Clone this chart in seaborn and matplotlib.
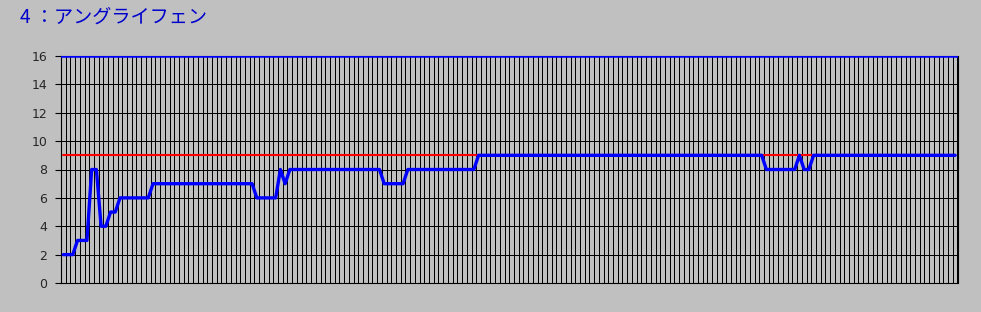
import matplotlib
matplotlib.use("Agg")
import matplotlib.pyplot as plt
import seaborn as sns
import pandas as pd
import numpy as np

title_text = "4 ：アングライフェン"
y_ticks = [0, 2, 4, 6, 8, 10, 12, 14, 16]

# blue series values read per category
series_values = [
    2, 2, 2, 3, 3, 3, 8, 8, 4, 4,
    5, 5, 6, 6, 6, 6, 6, 6, 6, 7,
    7, 7, 7, 7, 7, 7, 7, 7, 7, 7,
    7, 7, 7, 7, 7, 7, 7, 7, 7, 7,
    7, 6, 6, 6, 6, 6, 8, 7, 8, 8,
    8, 8, 8, 8, 8, 8, 8, 8, 8, 8,
    8, 8, 8, 8, 8, 8, 8, 8, 7, 7,
    7, 7, 7, 8, 8, 8, 8, 8, 8, 8,
    8, 8, 8, 8, 8, 8, 8, 8, 9, 9,
    9, 9, 9, 9, 9, 9, 9, 9, 9, 9,
    9, 9, 9, 9, 9, 9, 9, 9, 9, 9,
    9, 9, 9, 9, 9, 9, 9, 9, 9, 9,
    9, 9, 9, 9, 9, 9, 9, 9, 9, 9,
    9, 9, 9, 9, 9, 9, 9, 9, 9, 9,
    9, 9, 9, 9, 9, 9, 9, 9, 9, 8,
    8, 8, 8, 8, 8, 8, 9, 8, 8, 9,
    9, 9, 9, 9, 9, 9, 9, 9, 9, 9,
    9, 9, 9, 9, 9, 9, 9, 9, 9, 9,
    9, 9, 9, 9, 9, 9, 9, 9, 9, 9,
]
target_level = 9
max_level = 16

n = len(series_values)
df = pd.DataFrame({
    "idx": np.arange(n),
    "value": series_values,
    "target": [target_level] * n,
})

sns.set_theme(style="white")
plt.rcParams['font.family'] = ['Noto Sans CJK JP', 'DejaVu Sans']

bg = "#C0C0C0"
fig = plt.figure(figsize=(9.81, 3.12), dpi=100, facecolor=bg)
ax = fig.add_axes([61 / 981, 1 - 283 / 312, (957.5 - 61) / 981, (283 - 56) / 312])
ax.set_facecolor(bg)

# grid
for k in range(n + 1):
    ax.axvline(k - 0.5, color="black", lw=0.5, zorder=1, antialiased=False)
for t in y_ticks:
    ax.axhline(t, color="black", lw=0.5, zorder=1, antialiased=False)
ax.axhline(max_level, color="#0000FF", lw=1.8, zorder=3)

sns.lineplot(data=df, x="idx", y="target", ax=ax, color="#FF0000", lw=1.5, zorder=2)
sns.lineplot(data=df, x="idx", y="value", ax=ax, color="#0000FF", lw=2.4, zorder=4)

ax.set_xlim(-0.5, n - 0.5)
ax.set_ylim(0, 16)
ax.set_yticks(y_ticks)
ax.set_yticklabels([str(t) for t in y_ticks], fontsize=9, family="DejaVu Sans")
ax.set_xticks([])
ax.set_xlabel("")
ax.set_ylabel("")
ax.tick_params(axis="y", left=True, length=4, width=0.8, color="black", pad=6)
for s in ax.spines.values():
    s.set_color("black")
    s.set_linewidth(0.8)

fig.text(20 / 981, 1 - 7 / 312, title_text, color="#0000CC", fontsize=13.8,
         ha="left", va="top", family=['Noto Sans CJK JP', 'DejaVu Sans'])

fig.savefig("out.png", dpi=100, facecolor=bg)
